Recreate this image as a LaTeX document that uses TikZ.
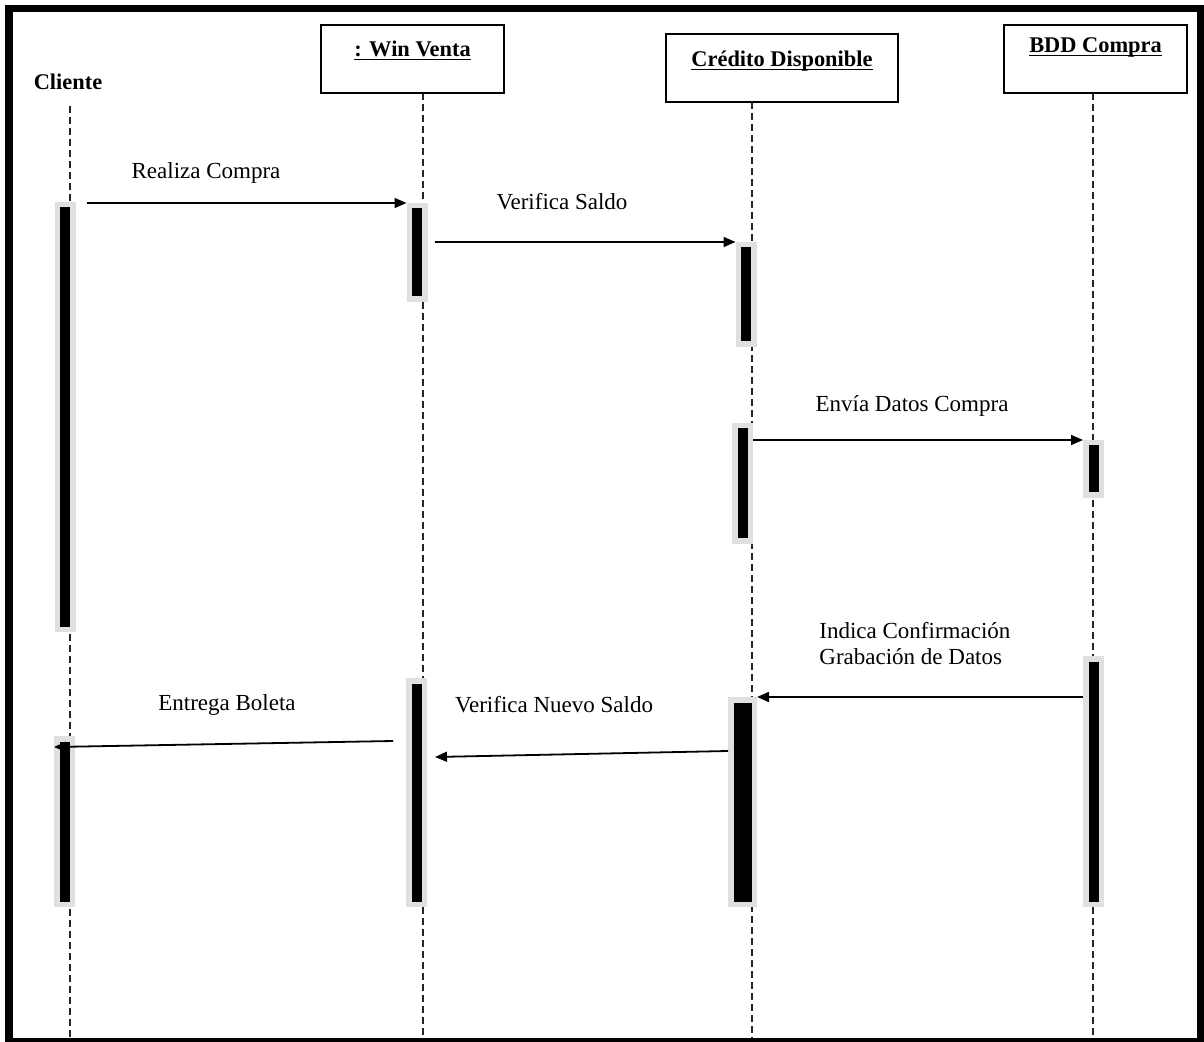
\documentclass[tikz,border=0pt]{standalone}
\usepackage{fontspec}
\setmainfont{Liberation Serif}
\usetikzlibrary{arrows.meta}

\begin{document}
\begin{tikzpicture}[x=0.5pt, y=-0.5pt, >={Triangle[length=6pt,width=5pt]},
		objbox/.style={draw, line width=0.8pt, minimum width=91.5pt, minimum height=34pt, inner sep=0},
		objname/.style={font=\fontsize{11.2}{13}\selectfont\bfseries, anchor=base, inner sep=0},
		lifeline/.style={dash pattern=on 3.5pt off 2pt, line width=0.7pt, black!85},
		actbar/.style={fill=black, draw=black!12, line width=2.75pt, minimum width=7.75pt, inner sep=0},
		msg/.style={->, line width=0.9pt},
		msglabel/.style={font=\fontsize{11.5}{13}\selectfont, inner sep=0}]
		\useasboundingbox (0,0) rectangle (1204,1042);

		% lifelines
		\draw[lifeline] (70,106) -- (70,1040);
		\draw[lifeline] (423,93) -- (423,1040);
		\draw[lifeline] (752,102) -- (752,1040);
		\draw[lifeline] (1093,93) -- (1093,1040);

		% objects
		\node[objname] (cl) at (68,90) {Cliente};
		\node[objbox] (wv) at (412.5,59) {};
		\node[objname] (wvname) at ([yshift=-16pt]wv.north) {\underline{\smash{: Win Venta}}};
		\node[objbox, minimum width=116pt] (cd) at (782,68) {};
		\node[objname] (cdname) at ([yshift=-16.5pt]cd.north) {\underline{\smash{Crédito Disponible}}};
		\node[objbox] (bd) at (1095.5,59) {};
		\node[objname] (bdname) at ([yshift=-14pt]bd.north) {\underline{\smash{BDD Compra}}};

		% activation bars
		\node[actbar, minimum height=212.25pt] (cl1) at (65,417) {};
		\node[actbar, minimum height=82.75pt] (cl2) at (64.5,821.5) {};
		\node[actbar, minimum height=46.75pt] (wv1) at (417,252.5) {};
		\node[actbar, minimum height=111.75pt] (wv2) at (416.5,792.5) {};
		\node[actbar, minimum height=49.75pt] (cd1) at (746,294.5) {};
		\node[actbar, minimum height=57.75pt] (cd2) at (742.5,483.5) {};
		\node[actbar, minimum height=102.25pt, minimum width=11.75pt] (cd3) at (742.5,802) {};
		\node[actbar, minimum height=26.25pt] (bd1) at (1093.5,469) {};
		\node[actbar, minimum height=122.75pt] (bd2) at (1093.5,781.5) {};

		% messages
		\draw[msg, shorten <=5.5pt] (cl1.east |- wv1.north) -- (wv1.north west);
		\node[msglabel] (m1) at (206,173) {Realiza Compra};
		\draw[msg, shorten <=3.5pt] (wv1.east |- cd1.north) -- (cd1.north west);
		\node[msglabel] (m2) at (562,202) {Verifica Saldo};
		\draw[msg] (cd2.east |- bd1.north) -- (bd1.north west);
		\node[msglabel] (m3) at (912,406) {Envía Datos Compra};
		\draw[msg] (bd2.west |- cd3.north) -- (cd3.north east);
		\node[msglabel, anchor=west, align=left] (m4) at (819,644) {Indica Confirmación\\Grabación de Datos};
		\draw[msg] ([yshift=-27pt]cd3.north west) -- ([xshift=4pt,yshift=-39.5pt]wv2.north east);
		\node[msglabel] (m5) at (554,705) {Verifica Nuevo Saldo};
		\draw[msg] ([xshift=-6.5pt,yshift=-31.5pt]wv2.north west) -- ([yshift=-5.5pt]cl2.north west);
		\node[msglabel] (m6) at (227,705) {Entrega Boleta};

		% frame
		\draw[line width=3.75pt] (9,8.5) rectangle (1200.5,1041.5);
	\end{tikzpicture}
\end{document}
